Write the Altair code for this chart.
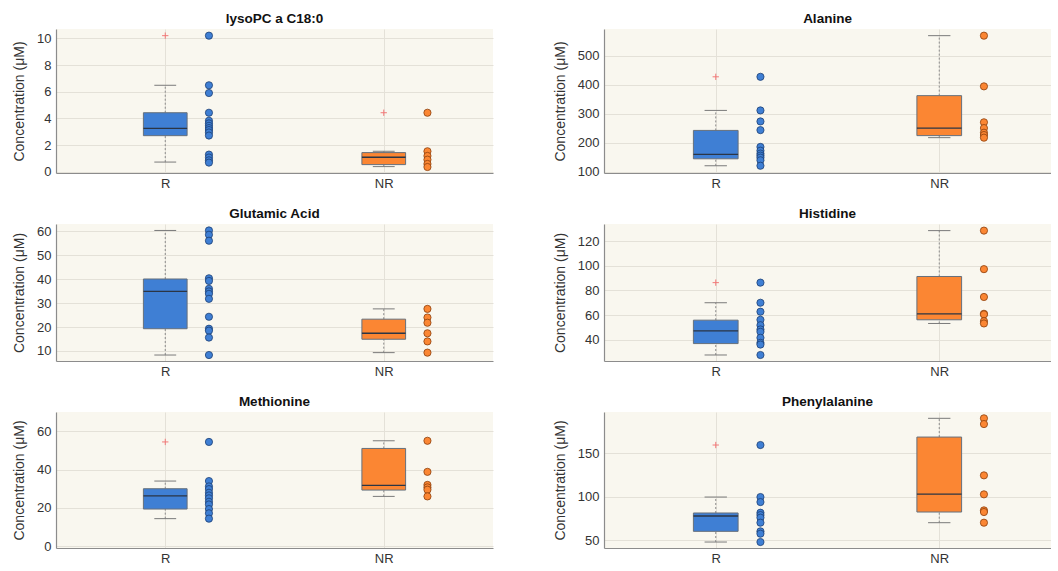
import altair as alt
import pandas as pd

# ---- measured concentrations (µM) per metabolite and response group ----
# Box statistics are [lower whisker, Q1, median, Q3, upper whisker].

LYSOPC_R = [10.2, 6.48, 5.9, 4.42, 3.82, 3.62, 3.44, 3.27, 3.12, 2.94, 2.71, 1.28, 1.06, 0.85, 0.68]
LYSOPC_NR = [4.42, 1.53, 1.18, 0.9, 0.58, 0.35]
LYSOPC_BOX_R = [0.72, 2.7, 3.25, 4.42, 6.48]
LYSOPC_BOX_NR = [0.38, 0.53, 1.08, 1.43, 1.53]
LYSOPC_OUT_R = [10.2]
LYSOPC_OUT_NR = [4.42]

ALANINE_R = [427, 311, 273, 243, 185, 172, 162, 155, 148, 139, 120]
ALANINE_NR = [569, 394, 270, 250, 234, 226, 217]
ALANINE_BOX_R = [120, 144, 159, 242, 311]
ALANINE_BOX_NR = [217, 224, 250, 362, 569]
ALANINE_OUT_R = [427]
ALANINE_OUT_NR = []

GLUTAMIC_R = [60.4, 58.6, 56.1, 40.4, 39.3, 36.0, 34.9, 33.9, 31.8, 24.3, 19.3, 18.5, 15.6, 8.3]
GLUTAMIC_NR = [27.6, 24.0, 21.8, 17.4, 14.0, 9.3]
GLUTAMIC_BOX_R = [8.3, 19.3, 34.9, 40.1, 60.4]
GLUTAMIC_BOX_NR = [9.3, 14.9, 17.4, 23.3, 27.6]
GLUTAMIC_OUT_R = []
GLUTAMIC_OUT_NR = []

HISTIDINE_R = [86.4, 70.0, 62.7, 56.1, 51.7, 48.2, 46.3, 41.4, 37.3, 35.9, 27.4]
HISTIDINE_NR = [128.8, 97.4, 74.7, 61.0, 60.5, 55.0, 53.1]
HISTIDINE_BOX_R = [27.4, 36.7, 47.1, 55.8, 70.0]
HISTIDINE_BOX_NR = [53.1, 56.1, 61.0, 91.4, 128.8]
HISTIDINE_OUT_R = [86.4]
HISTIDINE_OUT_NR = []

METHIONINE_R = [54.4, 34.0, 31.2, 29.8, 27.9, 26.5, 25.0, 23.2, 21.8, 19.4, 17.2, 14.4]
METHIONINE_NR = [55.0, 38.8, 32.0, 30.7, 29.5, 26.0]
METHIONINE_BOX_R = [14.4, 19.4, 26.3, 30.0, 34.0]
METHIONINE_BOX_NR = [26.0, 29.3, 31.7, 51.0, 55.0]
METHIONINE_OUT_R = [54.4]
METHIONINE_OUT_NR = []

PHENYL_R = [159.6, 99.6, 93.8, 81.5, 78.8, 75.8, 70.0, 60.0, 57.3, 47.7]
PHENYL_NR = [190.4, 183.8, 124.6, 102.7, 84.2, 82.3, 70.0]
PHENYL_BOX_R = [47.7, 60.0, 77.7, 81.2, 99.6]
PHENYL_BOX_NR = [70.0, 82.3, 103.0, 168.8, 190.4]
PHENYL_OUT_R = [159.6]
PHENYL_OUT_NR = []

GROUPS = ["R", "NR"]
BOX_FILL = {"R": "#3f7fd4", "NR": "#fb8633"}
DOT_FILL = {"R": "#1862c6", "NR": "#f36b12"}
DOT_EDGE = {"R": "#1c3f73", "NR": "#8c3f0c"}

FONT = "Liberation Sans"
Y_TITLE = "Concentration (μM)"


def panel(title, pts_r, pts_nr, box_r, box_nr, out_r, out_nr,
          ydomain, yticks, width, height):
    box = pd.DataFrame([
        {"group": g, "pos": i + 1, "lo": b[0], "q1": b[1], "med": b[2], "q3": b[3], "hi": b[4]}
        for i, (g, b) in enumerate(zip(GROUPS, [box_r, box_nr]))
    ])
    pts = pd.DataFrame(
        [{"group": "R", "pos": 1, "v": v} for v in pts_r]
        + [{"group": "NR", "pos": 2, "v": v} for v in pts_nr]
    )
    outs = pd.DataFrame(
        [{"pos": 1, "v": v} for v in out_r] + [{"pos": 2, "v": v} for v in out_nr],
        columns=["pos", "v"],
    )

    xs = alt.Scale(domain=[0.5, 2.5], nice=False, zero=False)
    xa = alt.Axis(values=[1, 2], labelExpr="datum.value == 1 ? 'R' : 'NR'",
                  title=None, grid=True, ticks=False, labelAngle=0)
    ys = alt.Scale(domain=ydomain, nice=False, zero=False)
    ya = alt.Axis(values=yticks, title=Y_TITLE, grid=True)

    def X(f):
        return alt.X(f, type="quantitative", scale=xs, axis=xa)

    def Y(f):
        return alt.Y(f, type="quantitative", scale=ys, axis=ya)

    b = alt.Chart(box).transform_calculate(
        x0="datum.pos - 0.1", x1="datum.pos + 0.1",
        c0="datum.pos - 0.05", c1="datum.pos + 0.05",
    )
    whisk_hi = b.mark_rule(color="#8a8a8a", strokeDash=[2, 2], strokeWidth=1).encode(
        x=X("pos"), y=Y("q3"), y2="hi")
    whisk_lo = b.mark_rule(color="#8a8a8a", strokeDash=[2, 2], strokeWidth=1).encode(
        x=X("pos"), y=Y("lo"), y2="q1")
    cap_hi = b.mark_rule(color="#7a7a7a", strokeWidth=1).encode(
        x=X("c0"), x2="c1", y=Y("hi"))
    cap_lo = b.mark_rule(color="#7a7a7a", strokeWidth=1).encode(
        x=X("c0"), x2="c1", y=Y("lo"))
    rect = b.mark_rect(stroke="#66707c", strokeWidth=1).encode(
        x=X("x0"), x2="x1", y=Y("q1"), y2="q3",
        fill=alt.Fill("group:N", scale=alt.Scale(domain=GROUPS,
                      range=[BOX_FILL[g] for g in GROUPS]), legend=None))
    med = b.mark_rule(color="#2b3545", strokeWidth=1.3).encode(
        x=X("x0"), x2="x1", y=Y("med"))
    out = alt.Chart(outs).transform_calculate(px="datum.pos").mark_point(
        shape="M-1,0L1,0M0,-1L0,1", size=40, filled=False,
        color="#f26d6d", strokeWidth=1, opacity=0.9).encode(x=X("px"), y=Y("v"))
    dots = alt.Chart(pts).transform_calculate(px="datum.pos + 0.2").mark_point(
        shape="circle", filled=True, size=52, strokeWidth=0.8, opacity=1).encode(
        x=X("px"), y=Y("v"),
        fill=alt.Fill("group:N", scale=alt.Scale(domain=GROUPS,
                      range=[DOT_FILL[g] for g in GROUPS]), legend=None),
        stroke=alt.Stroke("group:N", scale=alt.Scale(domain=GROUPS,
                          range=[DOT_EDGE[g] for g in GROUPS]), legend=None),
    )
    return alt.layer(whisk_hi, whisk_lo, cap_hi, cap_lo, rect, med, out, dots).properties(
        width=width, height=height,
        title=alt.TitleParams(title, fontSize=13.5, fontWeight="bold", font=FONT,
                              color="#111111", offset=4),
    )


LW, RW = 437, 447
HSP = 60
row1 = alt.hconcat(
    panel("lysoPC a C18:0", LYSOPC_R, LYSOPC_NR, LYSOPC_BOX_R, LYSOPC_BOX_NR,
          LYSOPC_OUT_R, LYSOPC_OUT_NR, [-0.1, 10.7], [0, 2, 4, 6, 8, 10], LW, 144),
    panel("Alanine", ALANINE_R, ALANINE_NR, ALANINE_BOX_R, ALANINE_BOX_NR,
          ALANINE_OUT_R, ALANINE_OUT_NR, [95, 592], [100, 200, 300, 400, 500], RW, 144),
    spacing=HSP,
)
row2 = alt.hconcat(
    panel("Glutamic Acid", GLUTAMIC_R, GLUTAMIC_NR, GLUTAMIC_BOX_R, GLUTAMIC_BOX_NR,
          GLUTAMIC_OUT_R, GLUTAMIC_OUT_NR, [5.8, 63.1], [10, 20, 30, 40, 50, 60], LW, 137),
    panel("Histidine", HISTIDINE_R, HISTIDINE_NR, HISTIDINE_BOX_R, HISTIDINE_BOX_NR,
          HISTIDINE_OUT_R, HISTIDINE_OUT_NR, [22.5, 134.2], [40, 60, 80, 100, 120], RW, 137),
    spacing=HSP,
)
row3 = alt.hconcat(
    panel("Methionine", METHIONINE_R, METHIONINE_NR, METHIONINE_BOX_R, METHIONINE_BOX_NR,
          METHIONINE_OUT_R, METHIONINE_OUT_NR, [-0.9, 70], [0, 20, 40, 60], LW, 136),
    panel("Phenylalanine", PHENYL_R, PHENYL_NR, PHENYL_BOX_R, PHENYL_BOX_NR,
          PHENYL_OUT_R, PHENYL_OUT_NR, [40.8, 197.7], [50, 100, 150], RW, 136),
    spacing=HSP,
)

chart = alt.vconcat(row1, row2, row3, spacing=16).properties(
    padding={"left": 12, "top": 11, "right": 0, "bottom": 0},
    background="#ffffff",
).configure_view(
    fill="#f9f7ef", stroke=None,
).configure_axis(
    labelFont=FONT, titleFont=FONT, labelFontSize=13, titleFontSize=14,
    labelColor="#333333", titleColor="#333333", titleFontWeight="normal",
    domainColor="#8c8c8c", domainWidth=1.2, gridColor="#e4e1d8", gridWidth=1,
    tickSize=0, labelPadding=5, titlePadding=10,
).configure_axisX(
    labelPadding=4,
)

chart.save("out.html", embed_options={"renderer": "svg", "actions": False})
